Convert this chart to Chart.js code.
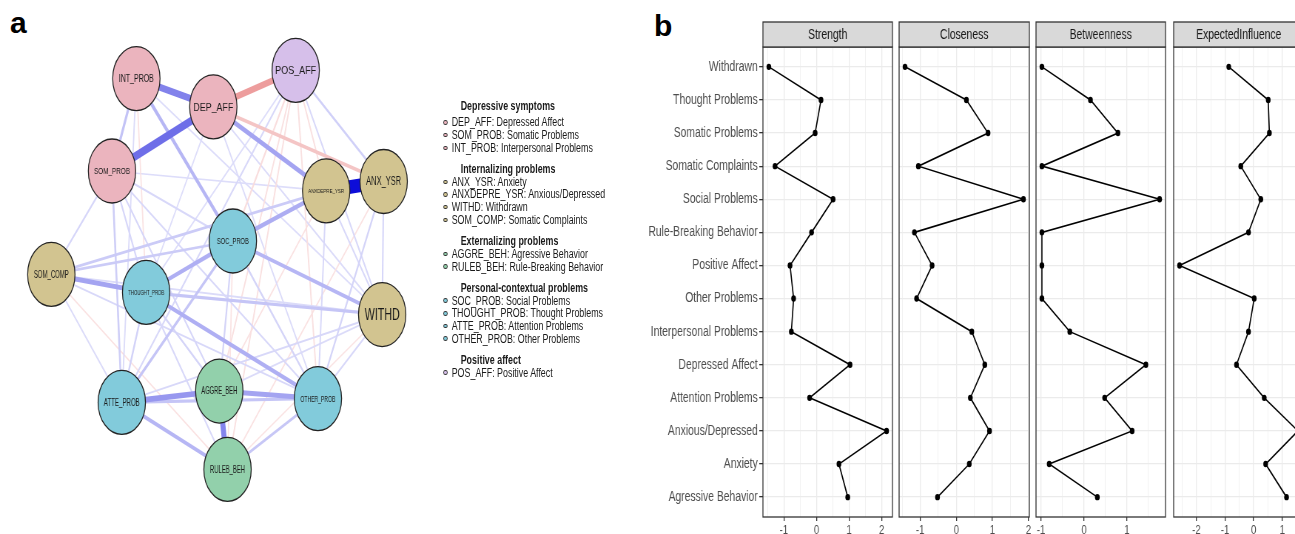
<!DOCTYPE html>
<html>
<head>
<meta charset="utf-8">
<title>Network and centrality</title>
<script src="https://cdn.jsdelivr.net/npm/chart.js@4.4.1/dist/chart.umd.min.js"></script>
<style>
  html, body { margin: 0; padding: 0; background: #fff; overflow: hidden; }
  body { width: 1295px; height: 534px; position: relative; font-family: 'Liberation Sans', Arial, sans-serif; }
  #stage { position: absolute; left: 0; top: 0; width: 1800px; height: 534px; transform-origin: 0 0; }
  #stage canvas { position: absolute; top: 0; }
  .tag { position: absolute; font-weight: bold; font-size: 30px; line-height: 30px; color: #000; }
  .lg { position: absolute; font-size: 12px; line-height: 14px; color: #1a1a1a; white-space: nowrap; }
  .lg.head { font-weight: bold; }
  .dot { position: absolute; width: 6px; height: 4.5px; border-radius: 50%; border: 1px solid #333; box-sizing: border-box; }
</style>
</head>
<body>
<div class="tag" style="left:10px;top:8px">a</div>
<div class="tag" style="left:654px;top:11px">b</div>
<div id="stage">
  <canvas id="net"></canvas>
  <div id="legend"></div>
  <canvas id="f0"></canvas>
  <canvas id="f1"></canvas>
  <canvas id="f2"></canvas>
  <canvas id="f3"></canvas>
</div>
<script>
// the whole figure is horizontally condensed in the reference
const SX = 0.74;

// ---------- panel a: network ----------
const nodeIds = ['INT_PROB', 'DEP_AFF', 'POS_AFF', 'SOM_PROB', 'ANXDEPRE_YSR', 'ANX_YSR', 'SOC_PROB',
                 'SOM_COMP', 'THOUGHT_PROB', 'WITHD', 'ATTE_PROB', 'AGGRE_BEH', 'OTHER_PROB', 'RULEB_BEH'];
const nodeDesc = ['Interpersonal Problems', 'Depressed Affect', 'Positive Affect', 'Somatic Problems',
                  'Anxious/Depressed', 'Anxiety', 'Social Problems', 'Somatic Complaints', 'Thought Problems',
                  'Withdrawn', 'Attention Problems', 'Agressive Behavior', 'Other Problems', 'Rule-Breaking Behavior'];
const nodeGroup = [0, 0, 4, 0, 1, 1, 3, 1, 3, 1, 3, 2, 3, 2];
// layout coordinates
const nodeX = [125.7, 212.3, 305, 98.3, 339.3, 404, 234.3, 30, 136.7, 402.3, 109.3, 219, 330, 228.3];
const nodeY = [51.7, 84, 42.3, 157.3, 180, 169.3, 237.3, 275.5, 296, 321.3, 421.7, 408.7, 417.3, 498.3];

const groupNames = ['Depressive symptoms', 'Internalizing problems', 'Externalizing problems',
                    'Personal-contextual problems', 'Positive affect'];
const legendOrder = ['DEP_AFF', 'SOM_PROB', 'INT_PROB', 'ANX_YSR', 'ANXDEPRE_YSR', 'WITHD', 'SOM_COMP',
                     'AGGRE_BEH', 'RULEB_BEH', 'SOC_PROB', 'THOUGHT_PROB', 'ATTE_PROB', 'OTHER_PROB', 'POS_AFF'];

const edgeFrom = ['ANXDEPRE_YSR', 'DEP_AFF', 'INT_PROB', 'DEP_AFF', 'AGGRE_BEH', 'ATTE_PROB', 'AGGRE_BEH',
  'SOM_COMP', 'DEP_AFF', 'ANXDEPRE_YSR', 'SOC_PROB', 'THOUGHT_PROB', 'SOC_PROB', 'ATTE_PROB', 'INT_PROB',
  'DEP_AFF', 'INT_PROB', 'ATTE_PROB', 'THOUGHT_PROB', 'SOC_PROB', 'OTHER_PROB', 'SOM_COMP', 'SOM_COMP',
  'SOM_PROB', 'POS_AFF',
  'SOM_PROB', 'SOM_PROB', 'SOM_PROB', 'SOM_PROB', 'SOM_PROB', 'SOM_COMP', 'SOM_COMP', 'SOM_COMP', 'SOM_COMP',
  'ANX_YSR', 'ANX_YSR', 'ANX_YSR', 'ANXDEPRE_YSR', 'ANXDEPRE_YSR', 'ANXDEPRE_YSR', 'ANXDEPRE_YSR',
  'SOC_PROB', 'SOC_PROB', 'SOC_PROB', 'THOUGHT_PROB', 'THOUGHT_PROB', 'THOUGHT_PROB', 'WITHD', 'WITHD',
  'WITHD', 'WITHD', 'POS_AFF', 'POS_AFF', 'POS_AFF', 'POS_AFF', 'POS_AFF', 'POS_AFF', 'POS_AFF', 'POS_AFF',
  'INT_PROB', 'INT_PROB', 'INT_PROB', 'DEP_AFF', 'DEP_AFF', 'DEP_AFF', 'SOM_PROB'];
const edgeTo = ['ANX_YSR', 'SOM_PROB', 'DEP_AFF', 'POS_AFF', 'RULEB_BEH', 'AGGRE_BEH', 'OTHER_PROB',
  'THOUGHT_PROB', 'ANXDEPRE_YSR', 'SOC_PROB', 'THOUGHT_PROB', 'OTHER_PROB', 'WITHD', 'RULEB_BEH', 'SOC_PROB',
  'ANX_YSR', 'SOM_PROB', 'OTHER_PROB', 'WITHD', 'ATTE_PROB', 'RULEB_BEH', 'SOC_PROB', 'ANXDEPRE_YSR',
  'ATTE_PROB', 'ANX_YSR',
  'THOUGHT_PROB', 'AGGRE_BEH', 'OTHER_PROB', 'SOM_COMP', 'SOC_PROB', 'OTHER_PROB', 'WITHD', 'RULEB_BEH', 'ATTE_PROB',
  'WITHD', 'OTHER_PROB', 'RULEB_BEH', 'WITHD', 'OTHER_PROB', 'THOUGHT_PROB', 'AGGRE_BEH',
  'AGGRE_BEH', 'OTHER_PROB', 'RULEB_BEH', 'ATTE_PROB', 'AGGRE_BEH', 'RULEB_BEH', 'ATTE_PROB', 'OTHER_PROB',
  'AGGRE_BEH', 'RULEB_BEH', 'SOC_PROB', 'ATTE_PROB', 'WITHD', 'ANXDEPRE_YSR', 'OTHER_PROB', 'AGGRE_BEH', 'RULEB_BEH', 'THOUGHT_PROB',
  'THOUGHT_PROB', 'ATTE_PROB', 'WITHD', 'OTHER_PROB', 'THOUGHT_PROB', 'WITHD', 'ANXDEPRE_YSR'];
const edgeWeight = [1.0, 0.55, 0.46, -0.42, 0.45, 0.36, 0.3,
  0.3, 0.3, 0.26, 0.25, 0.25, 0.22, 0.22, 0.22,
  -0.2, 0.16, 0.15, 0.15, 0.15, 0.14, 0.12, 0.12,
  0.11, 0.1,
  0.07, 0.07, 0.06, 0.07, 0.06, 0.06, 0.05, -0.04, 0.05,
  0.07, 0.08, -0.04, 0.06, 0.06, 0.05, -0.04,
  0.08, 0.08, -0.04, 0.09, 0.08, 0.06, 0.06, 0.06,
  0.05, -0.03, -0.07, 0.06, 0.06, -0.05, -0.05, -0.05, -0.05, 0.04,
  -0.04, 0.05, 0.04, 0.05, 0.04, 0.05, 0.04];

// ---------- panel b: centrality ----------
const centralityLabels = ['Agressive Behavior', 'Anxiety', 'Anxious/Depressed', 'Attention Problems',
  'Depressed Affect', 'Interpersonal Problems', 'Other Problems', 'Positive Affect', 'Rule-Breaking Behavior',
  'Social Problems', 'Somatic Complaints', 'Somatic Problems', 'Thought Problems', 'Withdrawn'];
const strength = [0.96, 0.69, 2.15, -0.21, 1.03, -0.77, -0.70, -0.81, -0.15, 0.51, -1.27, -0.04, 0.14, -1.46];
const closeness = [-0.52, 0.36, 0.92, 0.39, 0.79, 0.43, -1.10, -0.67, -1.16, 1.86, -1.05, 0.88, 0.28, -1.42];
const betweenness = [0.31, -0.81, 1.12, 0.48, 1.44, -0.33, -0.98, -0.98, -0.98, 1.76, -0.98, 0.79, 0.15, -0.98];
const expectedInfluence = [1.15, 0.42, 1.55, 0.37, -0.60, -0.18, 0.02, -2.59, -0.18, 0.25, -0.45, 0.55, 0.51, -0.87];

// ---------- styles ----------
const groupColors = ['#EBB4BE', '#D2C490', '#92D0AB', '#82CBDB', '#D6BFEA'];
const nodeFont = [10.7, 11.6, 11.6, 9.8, 6, 12.5, 9.3, 10.2, 7.4, 16.3, 10.2, 10.7, 9.3, 10.2];
const nodeLabelWidth = [35, 40, 41, 36, 36, 35, 32, 35, 36, 35, 36, 36, 35, 35];
const FONT = '"Liberation Sans", Arial, sans-serif';

document.getElementById('stage').style.transform = `scaleX(${SX})`;
Chart.defaults.font.family = FONT;

function edgeColor(w) {
  const base = w > 0 ? [0, 0, 215] : [215, 40, 40];
  const k = Math.min(1, 0.1 + 0.85 * Math.abs(w));
  return 'rgb(' + base.map(c => Math.round(255 + (c - 255) * k)).join(',') + ')';
}

const nodeLabels = {
  id: 'nodeLabels',
  afterDatasetsDraw(chart) {
    const c = chart.ctx, xs = chart.scales.x, ys = chart.scales.y;
    nodeIds.forEach((id, i) => {
      const px = xs.getPixelForValue(nodeX[i]);
      const py = ys.getPixelForValue(nodeY[i]);
      c.save();
      c.font = `${nodeFont[i]}px ${FONT}`;
      const w = c.measureText(id).width;
      c.translate(px, py);
      c.scale((nodeLabelWidth[i] / SX) / w, 1);
      c.fillStyle = '#1a1a1a';
      c.textAlign = 'center';
      c.textBaseline = 'middle';
      c.fillText(id, 0, 0.5);
      c.restore();
    });
  }
};

function drawNetwork() {
  const el = document.getElementById('net');
  el.width = Math.round(440 / SX);
  el.height = 534;
  el.style.left = '0px';

  const idx = id => nodeIds.indexOf(id);
  const edgeSets = edgeFrom.map((f, i) => {
    const a = idx(f), b = idx(edgeTo[i]), w = edgeWeight[i];
    return {
      type: 'scatter',
      showLine: true,
      data: [{ x: nodeX[a], y: nodeY[a] }, { x: nodeX[b], y: nodeY[b] }],
      borderColor: edgeColor(w),
      borderWidth: 1.2 + 12.5 * Math.abs(w),
      pointRadius: 0,
      order: 2 + Math.round((1 - Math.abs(w)) * 1000),
      clip: false
    };
  });

  new Chart(el, {
    type: 'scatter',
    data: {
      datasets: [{
        data: nodeIds.map((_, i) => ({ x: nodeX[i], y: nodeY[i] })),
        pointRadius: 32,
        pointBackgroundColor: nodeGroup.map(g => groupColors[g]),
        pointBorderColor: '#222',
        pointBorderWidth: 1.3,
        order: 0,
        clip: false
      }, ...edgeSets]
    },
    options: {
      responsive: false,
      animation: false,
      devicePixelRatio: 1,
      layout: { padding: 0 },
      plugins: { legend: { display: false }, tooltip: { enabled: false } },
      scales: {
        x: { type: 'linear', display: false, min: 0, max: 440 },
        y: { type: 'linear', display: false, min: 0, max: 534, reverse: true }
      }
    },
    plugins: [nodeLabels]
  });
}

function drawLegend() {
  const box = document.getElementById('legend');
  let y = 105.7;
  groupNames.forEach((g, gi) => {
    const head = document.createElement('div');
    head.className = 'lg head';
    head.textContent = g;
    head.style.left = (460.7 / SX) + 'px';
    head.style.top = (y - 7) + 'px';
    box.appendChild(head);
    y += gi === 0 ? 16.6 : 12.7;
    legendOrder.filter(id => nodeGroup[nodeIds.indexOf(id)] === gi).forEach(id => {
      const i = nodeIds.indexOf(id);
      const dot = document.createElement('div');
      dot.className = 'dot';
      dot.style.background = groupColors[nodeGroup[i]];
      dot.style.left = (443.3 / SX) + 'px';
      dot.style.top = (y - 2.2) + 'px';
      box.appendChild(dot);
      const t = document.createElement('div');
      t.className = 'lg';
      t.textContent = `${id}: ${nodeDesc[i]}`;
      t.style.left = (451.7 / SX) + 'px';
      t.style.top = (y - 7) + 'px';
      box.appendChild(t);
      y += 12.7;
    });
    y += 8.6;
  });
}

// ---------- panel b facets ----------
const facetFrame = {
  id: 'facetFrame',
  beforeDatasetsDraw(chart) {
    const a = chart.chartArea, c = chart.ctx;
    c.save();
    c.strokeStyle = '#333';
    c.lineWidth = 1.3;
    c.strokeRect(a.left, a.top, a.right - a.left, a.bottom - a.top);
    c.restore();
  },
  afterDraw(chart, args, opts) {
    const a = chart.chartArea, c = chart.ctx;
    c.save();
    c.fillStyle = '#d9d9d9';
    c.fillRect(a.left, 22, a.right - a.left, 25);
    c.strokeStyle = '#333';
    c.lineWidth = 1.3;
    c.strokeRect(a.left, 22, a.right - a.left, 25);
    c.fillStyle = '#1a1a1a';
    c.font = `14px ${FONT}`;
    c.textAlign = 'center';
    c.textBaseline = 'middle';
    c.fillText(opts.text, (a.left + a.right) / 2, 35);
    c.restore();
  }
};

function facet(id, title, vals, refLeft, refRight, showY) {
  const el = document.getElementById(id);
  const yW = showY ? 160 : 0;
  const padL = showY ? 0 : 8, padR = 8;
  const areaL = refLeft / SX, areaR = refRight / SX;
  el.style.left = (areaL - yW - padL) + 'px';
  el.width = Math.round(yW + padL + (areaR - areaL) + padR);
  el.height = 534;

  const lo = Math.min(...vals), hi = Math.max(...vals), ex = (hi - lo) * 0.05;
  const isInt = v => Math.abs(v - Math.round(v)) < 1e-9;

  new Chart(el, {
    type: 'scatter',
    data: {
      datasets: [{
        data: vals.map((v, i) => ({ x: v, y: i + 1 })),
        showLine: true,
        borderColor: '#000',
        borderWidth: 1.6,
        pointRadius: 3.2,
        pointBackgroundColor: '#000',
        pointBorderWidth: 0
      }]
    },
    options: {
      responsive: false,
      animation: false,
      devicePixelRatio: 1,
      layout: { padding: { top: 47, left: padL, right: padR, bottom: 0 } },
      plugins: { legend: { display: false }, tooltip: { enabled: false }, facetFrame: { text: title } },
      scales: {
        x: {
          type: 'linear', min: lo - ex, max: hi + ex,
          afterBuildTicks: s => {
            const t = [];
            for (let v = Math.ceil(s.min * 2) / 2; v <= s.max + 1e-9; v += 0.5) t.push({ value: v });
            s.ticks = t;
          },
          afterFit: s => { s.height = 17; },
          border: { display: false },
          grid: {
            color: '#ebebeb',
            lineWidth: c => isInt(c.tick.value) ? 1.3 : 0.7,
            tickLength: 4,
            tickColor: c => isInt(c.tick.value) ? '#333' : 'rgba(0,0,0,0)'
          },
          ticks: {
            autoSkip: false, maxRotation: 0, padding: 2,
            color: '#4d4d4d', font: { size: 13 },
            callback: v => isInt(v) ? String(Math.round(v)) : ''
          }
        },
        y: {
          type: 'linear', min: 0.4, max: 14.6,
          afterBuildTicks: s => { s.ticks = centralityLabels.map((_, i) => ({ value: i + 1 })); },
          afterFit: s => { s.width = yW; },
          border: { display: false },
          grid: { color: '#ebebeb', lineWidth: 1.3, drawTicks: showY, tickLength: 5, tickColor: '#333' },
          ticks: {
            display: showY, autoSkip: false, padding: 2,
            color: '#4d4d4d', font: { size: 14 },
            callback: v => centralityLabels[Math.round(v) - 1]
          }
        }
      }
    },
    plugins: [facetFrame]
  });
}

drawNetwork();
drawLegend();
facet('f0', 'Strength', strength, 762.7, 892, true);
facet('f1', 'Closeness', closeness, 899.3, 1029.3, false);
facet('f2', 'Betweenness', betweenness, 1036.3, 1166, false);
facet('f3', 'ExpectedInfluence', expectedInfluence, 1173.3, 1303.3, false);
</script>
</body>
</html>
